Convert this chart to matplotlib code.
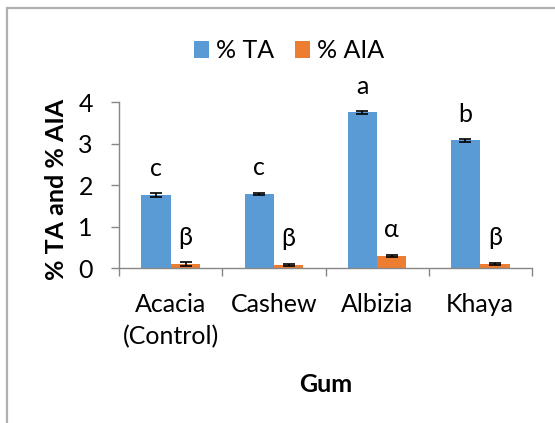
import matplotlib
matplotlib.use("Agg")
import matplotlib.pyplot as plt
from matplotlib.patches import Rectangle
import numpy as np

plt.rcParams['font.family'] = ['Lato', 'DejaVu Sans']

categories = ["Acacia\n(Control)", "Cashew", "Albizia", "Khaya"]
ta_values = [1.77, 1.79, 3.76, 3.08]
ta_errors = [0.055, 0.035, 0.04, 0.04]
aia_values = [0.10, 0.08, 0.30, 0.11]
aia_errors = [0.04, 0.015, 0.025, 0.02]
ta_letters = ["c", "c", "a", "b"]
aia_letters = ["β", "β", "α", "β"]
series_names = ["% TA", "% AIA"]
yticks = [0, 1, 2, 3, 4]

BLUE = "#5B9BD5"
ORANGE = "#ED7D31"
GRAY = "#878787"
FS = 18

W, H = 555, 423
fig = plt.figure(figsize=(W / 100, H / 100), dpi=100)
ax = fig.add_axes([119.3 / W, 1 - 268.3 / H, (531.7 - 119.3) / W, (268.3 - 102.3) / H])

# chart border
fig.patches.append(Rectangle((7 / W, -0.1), 1.2, 1.1 - 8 / H, transform=fig.transFigure,
                             fill=False, edgecolor="#B0B0B0", linewidth=1.6))

x = np.arange(len(categories))
bw = 0.285
ekw = dict(ecolor="black", elinewidth=1.2, capsize=4, capthick=1.2)
b1 = ax.bar(x - bw / 2, ta_values, bw, color=BLUE, label=series_names[0],
            yerr=ta_errors, error_kw=ekw)
b2 = ax.bar(x + bw / 2, aia_values, bw, color=ORANGE, label=series_names[1],
            yerr=aia_errors, error_kw=ekw)

for xi, v, t in zip(x - bw / 2, ta_values, ta_letters):
    ax.annotate(t, (xi, v), xytext=(0, 13.5), textcoords="offset points",
                ha="center", va="baseline", fontsize=FS)
for xi, v, t in zip(x + bw / 2, aia_values, aia_letters):
    ax.annotate(t, (xi, v), xytext=(0, 13.8), textcoords="offset points",
                ha="center", va="baseline", fontsize=FS)

ax.set_xlim(-0.5, len(categories) - 0.5)
ax.set_ylim(0, 4)
ax.set_yticks(yticks)
ax.set_yticklabels([str(t) for t in yticks], fontsize=FS)
ax.tick_params(axis="y", length=6, width=1, color=GRAY, pad=13)

ax.set_xticks(np.arange(-0.5, len(categories), 1.0))
ax.set_xticklabels([])
ax.tick_params(axis="x", which="major", length=6, width=1, color=GRAY)
ax.set_xticks(x, minor=True)
ax.set_xticklabels(categories, minor=True, fontsize=FS, linespacing=1.45)
ax.tick_params(axis="x", which="minor", length=0, pad=18)

for s in ["top", "right"]:
    ax.spines[s].set_visible(False)
for s in ["left", "bottom"]:
    ax.spines[s].set_color(GRAY)
    ax.spines[s].set_linewidth(1)

fig.text(57 / W, 1 - 189 / H, "% TA and % AIA", rotation=90, ha="center", va="center",
         fontsize=FS, fontweight="bold")
fig.text(325.5 / W, 1 - 391.7 / H, "Gum", ha="center", va="baseline",
         fontsize=FS, fontweight="bold")

fig.legend(handles=[b1, b2], labels=series_names, loc="center",
           bbox_to_anchor=(289 / W, 1 - 51 / H), ncol=2, frameon=False,
           fontsize=FS, handlelength=0.6, handleheight=0.7, handletextpad=0.3,
           columnspacing=0.8)

fig.savefig("out.png", dpi=100)
